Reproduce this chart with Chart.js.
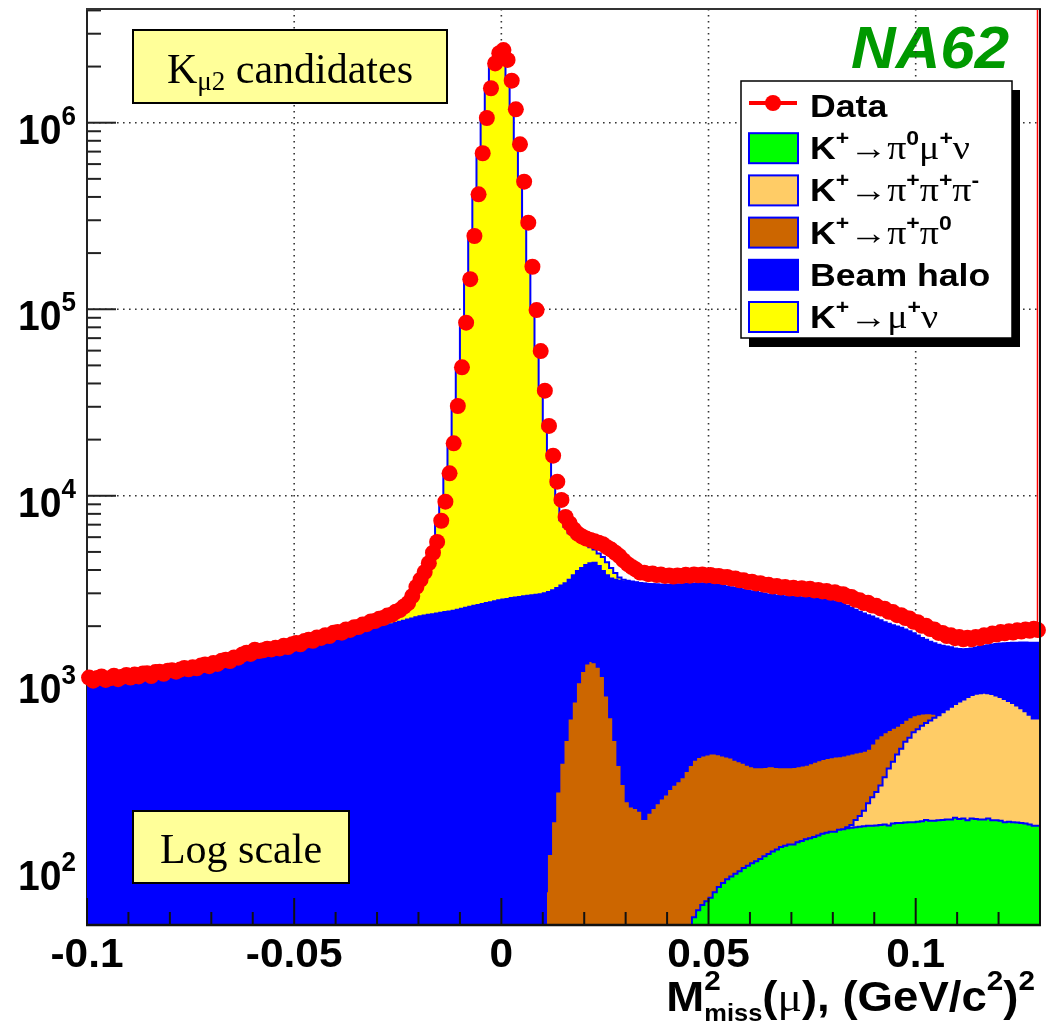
<!DOCTYPE html>
<html>
<head>
<meta charset="utf-8">
<title>NA62 - Kmu2 candidates, missing mass squared</title>
<script src="https://cdn.jsdelivr.net/npm/chart.js@4.4.1/dist/chart.umd.min.js"></script>
<style>
    html, body { margin: 0; padding: 0; background: #ffffff; }
    #chart-wrap { width: 1048px; height: 1023px; }
</style>
</head>
<body>
<div id="chart-wrap"><canvas id="mm2-chart" width="1048" height="1023"></canvas></div>
<script>
// --- Binning: 230 bins of 0.001 (GeV/c2)^2 from -0.100 to 0.130 ---
const binLow = -0.100;
const binWidth = 0.001;
const xMin = -0.100;
const xMax = 0.130;
const yMin = 50;
const yMax = 4.07e6;

// --- Data (entries per bin) ---
const dataCounts = [
    1060, 1020, 1055, 1075, 1030, 1050, 1085, 1040, 1070, 1095,
    1060, 1100, 1075, 1115, 1120, 1080, 1135, 1140, 1110, 1155,
    1160, 1140, 1170, 1195, 1175, 1205, 1190, 1230, 1245, 1220,
    1270, 1255, 1305, 1320, 1300, 1360, 1355, 1410, 1440, 1420,
    1495, 1470, 1485, 1515, 1500, 1530, 1520, 1570, 1545, 1600,
    1625, 1600, 1665, 1690, 1670, 1740, 1730, 1790, 1770, 1845,
    1860, 1845, 1920, 1910, 1975, 1980, 2040, 2050, 2120, 2130,
    2190, 2210, 2280, 2300, 2390, 2440, 2550, 2660, 2900, 3250,
    3550, 3900, 4350, 4950, 5660, 7350, 9300, 13200, 19100, 30300,
    48800, 84700, 145000, 247000, 413000, 686000, 1060000, 1530000, 2080000, 2360000,
    2450000, 2170000, 1680000, 1180000, 766000, 483000, 291000, 169000, 99000, 59700,
    36600, 23700, 16400, 11900, 9500, 7700, 7100, 6600, 6250, 6050,
    5900, 5800, 5700, 5600, 5500, 5300, 5150, 4950, 4750, 4500,
    4300, 4150, 4020, 3880, 3870, 3800, 3830, 3760, 3790, 3720,
    3740, 3690, 3740, 3710, 3770, 3730, 3790, 3750, 3780, 3740,
    3760, 3700, 3720, 3660, 3670, 3600, 3600, 3520, 3520, 3450,
    3460, 3390, 3400, 3330, 3330, 3260, 3280, 3220, 3240, 3180,
    3210, 3160, 3190, 3140, 3170, 3110, 3130, 3070, 3090, 3020,
    3040, 2970, 2970, 2880, 2870, 2770, 2750, 2660, 2670, 2580,
    2570, 2490, 2480, 2390, 2380, 2290, 2290, 2210, 2200, 2110,
    2100, 2010, 2010, 1930, 1920, 1840, 1840, 1770, 1785, 1725,
    1750, 1700, 1735, 1700, 1750, 1725, 1785, 1765, 1825, 1805,
    1860, 1830, 1880, 1850, 1900, 1870, 1920, 1890, 1935, 1905
];

// --- MC stack, cumulative tops as drawn (THStack): green < K3pi < pipi0 < halo < Kmu2 ---
// Beam halo top (all bins)
const haloTop = [
    1010, 1000, 1020, 1025, 1005, 1015, 1035, 1010, 1020, 1040,
    1035, 1045, 1050, 1055, 1065, 1055, 1075, 1085, 1080, 1095,
    1100, 1110, 1105, 1125, 1140, 1135, 1150, 1160, 1175, 1185,
    1200, 1215, 1235, 1250, 1270, 1290, 1310, 1340, 1365, 1390,
    1410, 1420, 1405, 1430, 1450, 1440, 1465, 1480, 1495, 1515,
    1535, 1555, 1575, 1600, 1620, 1640, 1665, 1690, 1710, 1730,
    1750, 1770, 1790, 1810, 1830, 1850, 1860, 1870, 1880, 1900,
    1930, 1960, 1990, 2020, 2050, 2080, 2110, 2140, 2170, 2200,
    2230, 2260, 2280, 2300, 2320, 2340, 2360, 2380, 2400, 2420,
    2450, 2480, 2510, 2540, 2570, 2600, 2630, 2660, 2690, 2720,
    2750, 2780, 2800, 2830, 2850, 2870, 2890, 2910, 2930, 2950,
    2970, 3000, 3050, 3120, 3200, 3300, 3400, 3550, 3750, 3950,
    4100, 4250, 4350, 4380, 4200, 3950, 3750, 3600, 3550, 3500,
    3470, 3450, 3440, 3420, 3400, 3380, 3360, 3350, 3340, 3330,
    3330, 3330, 3340, 3350, 3360, 3370, 3380, 3390, 3400, 3400,
    3390, 3370, 3350, 3320, 3290, 3260, 3230, 3200, 3170, 3140,
    3110, 3080, 3050, 3020, 2990, 2960, 2940, 2920, 2900, 2890,
    2880, 2870, 2870, 2860, 2850, 2840, 2830, 2810, 2790, 2770,
    2750, 2720, 2680, 2630, 2570, 2510, 2450, 2390, 2340, 2290,
    2250, 2200, 2150, 2100, 2060, 2020, 1990, 1960, 1920, 1880,
    1830, 1780, 1730, 1690, 1650, 1620, 1590, 1570, 1555, 1540,
    1520, 1510, 1505, 1510, 1520, 1535, 1550, 1565, 1580, 1595,
    1605, 1615, 1620, 1625, 1630, 1630, 1635, 1635, 1630, 1630
];

// K+ -> mu+ nu on top of everything (bins 60..139, elsewhere ~ halo top)
const kmu2FirstBin = 60;
const kmu2Top = [
    1760, 1780, 1800, 1830, 1860, 1890, 1920, 1960, 2000, 2050,
    2090, 2130, 2170, 2220, 2280, 2350, 2440, 2560, 2750, 3050,
    3350, 3700, 4150, 4750, 5500, 7000, 9000, 12800, 18500, 29500,
    48000, 84000, 144000, 246000, 412000, 685000, 1060000, 1530000, 2080000, 2360000,
    2450000, 2170000, 1680000, 1180000, 766000, 483000, 291000, 169000, 99000, 59700,
    36000, 23000, 16000, 11500, 9200, 7400, 6800, 6300, 6000, 5800,
    5600, 5450, 5300, 5150, 4900, 4700, 4400, 4100, 3850, 3650,
    3550, 3500, 3470, 3440, 3410, 3385, 3365, 3352, 3342, 3332
];

// K+ -> pi+ pi0 (bins 111..229)
const pipi0FirstBin = 111;
const pipi0Top = [
    75, 120, 180, 260, 370, 490, 640, 790, 1000,
    1150, 1260, 1300, 1280, 1210, 1080, 850, 650, 490, 360,
    285, 230, 216, 212, 205, 185, 200, 212, 225, 238,
    250, 268, 282, 295, 310, 335, 360, 385, 398, 405,
    410, 415, 415, 412, 405, 400, 395, 385, 378, 370,
    362, 355, 350, 350, 352, 355, 355, 352, 350, 350,
    350, 352, 355, 358, 362, 368, 375, 382, 388, 393,
    396, 400, 402, 405, 410, 415, 420, 425, 430, 440,
    470, 500, 520, 540, 555, 570, 585, 605, 630, 650,
    665, 675, 680, 682, 682, 678, 672, 690, 715, 740,
    765, 790, 810, 835, 855, 868, 875, 878, 875, 865,
    850, 835, 815, 795, 775, 750, 725, 700, 670, 640
];

// K+ -> pi+ pi+ pi- (bins 183..229)
const k3piFirstBin = 183;
const k3piTop = [
    165, 167, 172, 183, 192, 205, 225,
    242, 258, 280, 310, 345, 375, 410, 440, 480, 505,
    540, 560, 585, 605, 625, 645, 665, 690, 715, 740,
    765, 790, 810, 835, 855, 868, 875, 878, 875, 865,
    850, 835, 815, 795, 775, 750, 725, 700, 670, 640
];

// K+ -> pi0 mu+ nu (bins 146..229)
const kmu3FirstBin = 146;
const kmu3Top = [
    45, 55, 60, 64, 67, 70, 75, 80, 84, 88,
    91, 94, 97, 101, 104, 107, 110, 113, 117, 120,
    124, 127, 131, 133, 135, 135, 139, 141, 144, 146,
    148, 151, 154, 156, 158, 158, 162, 163, 165, 166,
    167, 168, 169, 170, 170, 171, 172, 173, 171, 175,
    176, 176, 177, 178, 178, 179, 180, 183, 181, 181,
    182, 183, 184, 184, 188, 185, 186, 182, 186, 185,
    184, 184, 186, 182, 182, 181, 178, 179, 178, 177,
    176, 175, 173, 170
];

// --- Axis ticks ---
const xMajorTicks = [-0.1, -0.05, 0, 0.05, 0.1];
const xTickLabels = ['-0.1', '-0.05', '0', '0.05', '0.1'];
const yDecades = [2, 3, 4, 5, 6];

// --- Colours ---
const colData = '#ff0000';
const colLine = '#0000ff';
const colKmu3 = '#00ff00';
const colK3pi = '#ffcc66';
const colPipi0 = '#cc6600';
const colHalo = '#0000ff';
const colKmu2 = '#ffff00';

// --- Helpers ---
const sansB = s => `bold ${s}px "Liberation Sans", Arial, Helvetica, sans-serif`;
const serif = s => `${s}px "Liberation Serif", "Times New Roman", serif`;

function binEdge(k) {
    return +(binLow + k * binWidth).toFixed(4);
}

// histogram as step points on bin low edges, plus the closing upper edge
function histPoints(values, firstBin) {
    const pts = values.map((v, i) => ({ x: binEdge(firstBin + i), y: v }));
    pts.push({ x: binEdge(firstBin + values.length), y: values[values.length - 1] });
    return pts;
}

function dataPoints(values) {
    return values.map((v, i) => ({ x: binEdge(i) + binWidth / 2, y: v }));
}

// draw a line of text built from runs (sub/superscripts, mixed fonts)
function drawRuns(ctx, runs, x, y, align, sx) {
    sx = sx || 1;
    let total = 0;
    runs.forEach(r => {
        ctx.font = r.font;
        r.w = (r.adv === 0) ? 0 : ctx.measureText(r.t).width;
        total += r.w;
    });
    let cx = 0;
    if (align === 'right') cx = -total;
    else if (align === 'center') cx = -total / 2;
    ctx.save();
    ctx.translate(x, y);
    ctx.scale(sx, 1);
    ctx.textAlign = 'left';
    ctx.textBaseline = 'alphabetic';
    runs.forEach(r => {
        ctx.font = r.font;
        ctx.fillStyle = r.color || '#000000';
        ctx.fillText(r.t, cx, r.dy || 0);
        cx += r.w;
    });
    ctx.restore();
}

function dotted(ctx, x1, y1, x2, y2) {
    ctx.save();
    ctx.strokeStyle = '#333333';
    ctx.lineWidth = 1.6;
    ctx.setLineDash([1.6, 4.4]);
    ctx.beginPath();
    ctx.moveTo(x1, y1);
    ctx.lineTo(x2, y2);
    ctx.stroke();
    ctx.restore();
}

function line(ctx, x1, y1, x2, y2, color, width) {
    ctx.save();
    ctx.strokeStyle = color;
    ctx.lineWidth = width;
    ctx.beginPath();
    ctx.moveTo(x1, y1);
    ctx.lineTo(x2, y2);
    ctx.stroke();
    ctx.restore();
}

// legend rows: label runs for each entry
const supPlus = { t: '+', font: sansB(20), dy: -14 };
const legendRows = [
    { type: 'data', runs: [{ t: 'Data', font: sansB(31) }] },
    { type: 'box', fill: colKmu3, runs: [
        { t: 'K', font: sansB(31) }, supPlus, { t: '\u2192\u03c0', font: serif(33) },
        { t: '0', font: sansB(20), dy: -14 }, { t: '\u03bc', font: serif(33) }, supPlus,
        { t: '\u03bd', font: serif(33) }] },
    { type: 'box', fill: colK3pi, runs: [
        { t: 'K', font: sansB(31) }, supPlus, { t: '\u2192\u03c0', font: serif(33) }, supPlus,
        { t: '\u03c0', font: serif(33) }, supPlus, { t: '\u03c0', font: serif(33) },
        { t: '-', font: sansB(20), dy: -14 }] },
    { type: 'box', fill: colPipi0, runs: [
        { t: 'K', font: sansB(31) }, supPlus, { t: '\u2192\u03c0', font: serif(33) }, supPlus,
        { t: '\u03c0', font: serif(33) }, { t: '0', font: sansB(20), dy: -14 }] },
    { type: 'box', fill: colHalo, runs: [{ t: 'Beam halo', font: sansB(31) }] },
    { type: 'box', fill: colKmu2, runs: [
        { t: 'K', font: sansB(31) }, supPlus, { t: '\u2192\u03bc', font: serif(33) }, supPlus,
        { t: '\u03bd', font: serif(33) }] }
];

// --- Plugin: frame, grid, ticks, labels, legend and text boxes (ROOT style) ---
const rootFramePlugin = {
    id: 'rootFrame',
    beforeDatasetsDraw(chart) {
        const ctx = chart.ctx;
        const a = chart.chartArea;
        const xs = chart.scales.x;
        const ys = chart.scales.y;

        // experiment tag
        drawRuns(ctx, [{ t: 'NA62', font: `italic bold 60px "Liberation Sans", Arial, sans-serif`, color: '#009900' }],
            a.left + 764, a.top + 59, 'left', 1.03);

        // dotted grid
        xMajorTicks.forEach(v => {
            const px = xs.getPixelForValue(v);
            if (px > a.left + 2) dotted(ctx, px, a.top, px, a.bottom);
        });
        yDecades.forEach(d => {
            const py = ys.getPixelForValue(Math.pow(10, d));
            dotted(ctx, a.left, py, a.right, py);
        });

        // y axis (drawn under the histograms, as in the original)
        for (let d = 1; d <= 6; d++) {
            for (let m = 1; m <= 9; m++) {
                const v = m * Math.pow(10, d);
                if (v <= yMin || v >= yMax) continue;
                const py = ys.getPixelForValue(v);
                line(ctx, a.left, py, a.left + (m === 1 ? 29 : 14), py, '#222222', 2);
            }
        }
        line(ctx, a.left, a.top, a.left, a.bottom, '#222222', 2);
    },
    afterDatasetsDraw(chart) {
        const ctx = chart.ctx;
        const a = chart.chartArea;
        const xs = chart.scales.x;
        const ys = chart.scales.y;

        // x axis ticks on top
        for (let i = -10; i <= 13; i++) {
            const v = i / 100;
            const px = xs.getPixelForValue(v);
            const major = (i % 5 === 0);
            line(ctx, px, a.bottom, px, a.bottom - (major ? 27 : 13), '#111111', 2);
        }
        // frame
        line(ctx, a.left - 1, a.top, a.right + 1, a.top, '#333333', 2);
        line(ctx, a.left - 1, a.bottom, a.right + 1, a.bottom, '#111111', 2.5);
        line(ctx, a.right, a.top, a.right, a.bottom, '#111111', 2);
        // red data line at the right edge, down to the last data point
        const lastY = ys.getPixelForValue(dataCounts[dataCounts.length - 1]);
        line(ctx, a.right - 2.5, a.top + 1, a.right - 2.5, lastY, colData, 1.5);

        // text boxes
        ctx.save();
        ctx.fillStyle = '#ffff99';
        ctx.strokeStyle = '#000000';
        ctx.lineWidth = 2;
        ctx.fillRect(a.left + 46, a.top + 21, 314, 73);
        ctx.strokeRect(a.left + 46, a.top + 21, 314, 73);
        ctx.fillRect(a.left + 46, a.top + 802, 216, 72);
        ctx.strokeRect(a.left + 46, a.top + 802, 216, 72);
        ctx.restore();
        drawRuns(ctx, [{ t: 'K', font: serif(42) }, { t: '\u03bc2', font: serif(27), dy: 7 },
            { t: ' candidates', font: serif(42) }], a.left + 203, a.top + 74, 'center');
        drawRuns(ctx, [{ t: 'Log scale', font: serif(42) }], a.left + 154, a.top + 854, 'center');

        // legend with shadow
        const lx = a.left + 654, ly = a.top + 72, lw = 271, lh = 257;
        ctx.save();
        ctx.fillStyle = '#000000';
        ctx.fillRect(lx + 8, ly + 9, lw, lh);
        ctx.fillStyle = '#ffffff';
        ctx.fillRect(lx, ly, lw, lh);
        ctx.strokeStyle = '#000000';
        ctx.lineWidth = 1.5;
        ctx.strokeRect(lx, ly, lw, lh);
        ctx.restore();
        legendRows.forEach((row, i) => {
            const base = ly + 36 + i * 42.2;
            if (row.type === 'data') {
                line(ctx, lx + 8, base - 14, lx + 56, base - 14, colData, 4);
                ctx.save();
                ctx.fillStyle = colData;
                ctx.beginPath();
                ctx.arc(lx + 32, base - 14, 8, 0, Math.PI * 2);
                ctx.fill();
                ctx.restore();
            } else {
                ctx.save();
                ctx.fillStyle = row.fill;
                ctx.fillRect(lx + 8, base - 26, 49, 30);
                ctx.strokeStyle = colLine;
                ctx.lineWidth = 2;
                ctx.strokeRect(lx + 8, base - 26, 49, 30);
                ctx.restore();
            }
            drawRuns(ctx, row.runs, lx + 69, base, 'left', 1.15);
        });
    },
    afterDraw(chart) {
        const ctx = chart.ctx;
        const a = chart.chartArea;
        const xs = chart.scales.x;
        const ys = chart.scales.y;

        // x tick labels
        xMajorTicks.forEach((v, i) => {
            drawRuns(ctx, [{ t: xTickLabels[i], font: sansB(40) }], xs.getPixelForValue(v), a.bottom + 42, 'center', 1.06);
        });
        // y tick labels 10^d
        yDecades.forEach(d => {
            const py = ys.getPixelForValue(Math.pow(10, d));
            drawRuns(ctx, [{ t: '10', font: sansB(42) }, { t: String(d), font: sansB(28), dy: -19 }],
                a.left - 11, py + 21, 'right', 0.93);
        });
        // axis title
        drawRuns(ctx, [
            { t: 'M', font: sansB(43) },
            { t: '2', font: sansB(28), dy: -21, adv: 0 },
            { t: 'miss', font: sansB(24), dy: 10 },
            { t: '(', font: sansB(43) },
            { t: '\u03bc', font: serif(43) },
            { t: '), (GeV/c', font: sansB(43) },
            { t: '2', font: sansB(28), dy: -21 },
            { t: ')', font: sansB(43) },
            { t: '2', font: sansB(28), dy: -21 }
        ], a.right - 5, a.bottom + 86, 'right', 1.06);
    }
};

// --- Chart ---
document.addEventListener('DOMContentLoaded', () => {
    const canvas = document.getElementById('mm2-chart');

    const histStyle = (color) => ({
        stepped: 'after',
        fill: 'start',
        backgroundColor: color,
        borderColor: colLine,
        borderWidth: 2,
        pointRadius: 0,
        pointHoverRadius: 0
    });

    new Chart(canvas.getContext('2d'), {
        type: 'line',
        data: {
            datasets: [
                {
                    label: 'Data',
                    data: dataPoints(dataCounts),
                    showLine: false,
                    pointRadius: 8,
                    pointHoverRadius: 8,
                    pointBackgroundColor: colData,
                    pointBorderColor: colData,
                    pointBorderWidth: 0,
                    clip: false
                },
                Object.assign({ label: 'K+ -> pi0 mu+ nu', data: histPoints(kmu3Top, kmu3FirstBin) }, histStyle(colKmu3)),
                Object.assign({ label: 'K+ -> pi+ pi+ pi-', data: histPoints(k3piTop, k3piFirstBin) }, histStyle(colK3pi)),
                Object.assign({ label: 'K+ -> pi+ pi0', data: histPoints(pipi0Top, pipi0FirstBin) }, histStyle(colPipi0)),
                Object.assign({ label: 'Beam halo', data: histPoints(haloTop, 0) }, histStyle(colHalo)),
                Object.assign({ label: 'K+ -> mu+ nu', data: histPoints(kmu2Top, kmu2FirstBin) }, histStyle(colKmu2))
            ]
        },
        options: {
            responsive: false,
            animation: false,
            devicePixelRatio: 1,
            layout: { padding: { left: 87, right: 4, top: 9, bottom: 98 } },
            scales: {
                x: { type: 'linear', min: xMin, max: xMax, display: false },
                y: { type: 'logarithmic', min: yMin, max: yMax, display: false }
            },
            plugins: {
                legend: { display: false },
                tooltip: { enabled: false }
            }
        },
        plugins: [rootFramePlugin]
    });
});
</script>
</body>
</html>
